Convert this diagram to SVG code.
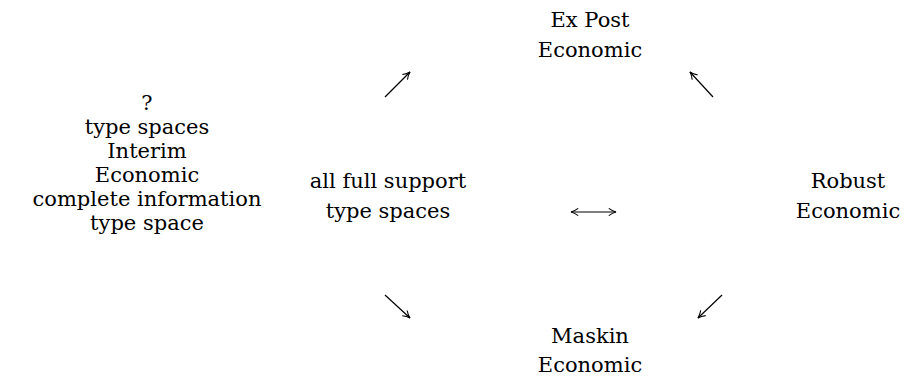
<svg xmlns="http://www.w3.org/2000/svg" width="912" height="383" viewBox="0 0 912 383">
<defs>
<style>
.t text{font-family:"DejaVu Serif","Liberation Serif",serif;font-size:21px;fill:#000;text-anchor:middle}
.c line{stroke:#000;stroke-width:1.2;fill:none}
</style>
<marker id="ah" viewBox="0 0 10 10" refX="9" refY="5" markerWidth="9" markerHeight="9" markerUnits="userSpaceOnUse" orient="auto-start-reverse">
<path d="M1,1 Q5,4 9,5 Q5,6 1,9" fill="none" stroke="#000" stroke-width="1.2"/>
</marker>
</defs>
<rect width="912" height="383" fill="#fff"/>
<g class="t">
<g id="left">
<text x="147" y="110">?</text>
<text x="147" y="134">type spaces</text>
<text x="147" y="158">Interim</text>
<text x="147" y="182">Economic</text>
<text x="147" y="206">complete information</text>
<text x="147" y="230">type space</text>
</g>
<g id="middle">
<text x="388" y="188">all full support</text>
<text x="388" y="218">type spaces</text>
</g>
<g id="top">
<text x="590" y="27">Ex Post</text>
<text x="590" y="57">Economic</text>
</g>
<g id="right">
<text x="848" y="188">Robust</text>
<text x="848" y="218">Economic</text>
</g>
<g id="bottom">
<text x="590" y="343">Maskin</text>
<text x="590" y="372">Economic</text>
</g>
</g>
<g class="c" id="connectors">
<line x1="385" y1="97" x2="410" y2="72" marker-end="url(#ah)"/>
<line x1="713" y1="97" x2="690" y2="72" marker-end="url(#ah)"/>
<line x1="385" y1="295" x2="410" y2="318" marker-end="url(#ah)"/>
<line x1="722" y1="295" x2="698" y2="318" marker-end="url(#ah)"/>
<line x1="571" y1="212" x2="616" y2="212" marker-start="url(#ah)" marker-end="url(#ah)"/>
</g>
</svg>
